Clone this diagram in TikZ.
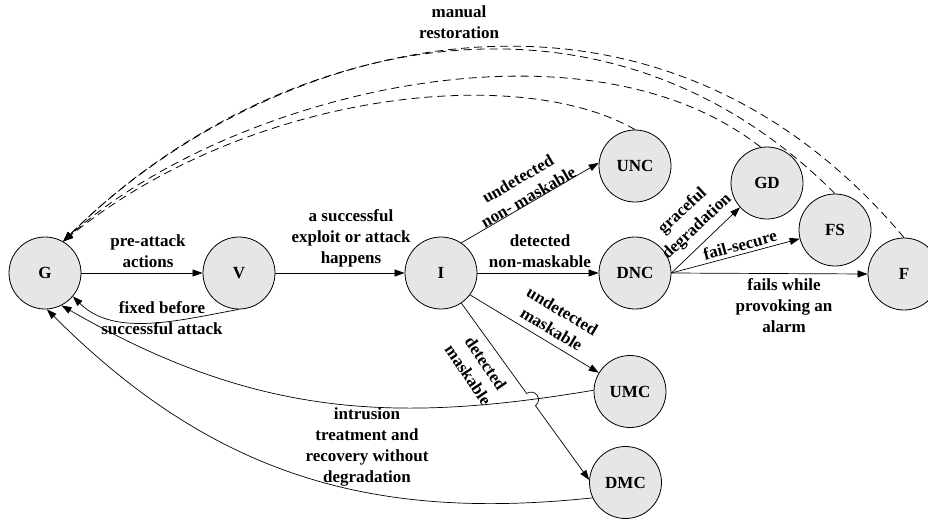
\documentclass[tikz,border=0pt]{standalone}
\usepackage{fontspec}
\setmainfont{Liberation Serif}
\usetikzlibrary{arrows.meta,calc,intersections}
\definecolor{stategray}{RGB}{230,230,230}

\begin{document}
\begin{tikzpicture}[x=1pt,y=1pt,
  stnode/.style={circle,draw=black,line width=0.8pt,fill=stategray,minimum size=72pt,
    inner sep=0pt,font=\fontsize{17}{21}\selectfont\bfseries},
  lbl/.style={align=center,inner sep=0pt,font=\fontsize{17}{21}\selectfont\bfseries},
  tip/.style={-{Triangle[length=10pt,width=7pt]}},
  conn/.style={line width=0.7pt,tip},
  ret/.style={line width=0.8pt,dash pattern=on 8pt off 5pt,tip}]

\fill[white] (0,0) rectangle (928,-522);
\useasboundingbox (0,0) rectangle (928,-522);

% states
\node[stnode] (G)   at (45,-273)    {G};
\node[stnode] (V)   at (239,-273)   {V};
\node[stnode] (I)   at (441,-273)   {I};
\node[stnode] (UNC) at (635,-166)   {UNC};
\node[stnode] (DNC) at (635,-273)   {DNC};
\node[stnode] (GD)  at (767,-183)   {GD};
\node[stnode] (FS)  at (835,-230)   {FS};
\node[stnode] (F)   at (904,-274)   {F};
\node[stnode] (UMC) at (630,-391.5) {UMC};
\node[stnode] (DMC) at (625.5,-482.5) {DMC};

% forward transitions
\draw[conn] (G.east) -- (V.west);
\draw[conn] (V.east) -- (I.west);
\draw[conn] (I.56) -- (UNC.175);
\draw[conn] (I.east) -- (DNC.west);
\draw[conn] (I.-37) -- (UMC.149);
\draw[conn] (DNC.east) -- (GD.222);
\draw[conn] (DNC.east) -- (FS.194);
\draw[conn] (DNC.east) -- (F.west);

% returns to the good state
\draw[conn] (V.south) .. controls +(190:58) and +(-45:59) .. (G.-40);
\draw[conn,name path=umcret] (UMC.178) .. controls +(189.5:200) and +(-30:225) .. (G.-63);
\draw[conn] (DMC.205) .. controls +(186:217) and +(-45:240) .. (G.-87);

% detected maskable, hopping over the UMC return
\path[name path=dmline] (I.-56) -- (DMC.176);
\path[name intersections={of=umcret and dmline, by=X}];
\coordinate (hopA) at ($(X)!7.5pt!(I.-56)$);
\coordinate (hopB) at ($(X)!7.5pt!(DMC.176)$);
\draw[conn] (I.-56) -- (hopA)
  let \p1=($(hopB)-(hopA)$), \n1={atan2(\y1,\x1)} in
  arc[start angle=\n1+180, delta angle=-180, radius=7.5pt] -- (DMC.176);

% manual restoration (dashed)
\draw[ret] (F.north)   .. controls +(130:400) and +(45:285) .. (G.60);
\draw[ret] (FS.north)  .. controls +(135:342) and +(45:276) .. (G.60);
\draw[ret] (GD.100)    .. controls +(142:230) and +(42:216) .. (G.60);
\draw[ret] (UNC.north) .. controls +(150:135) and +(39:237) .. (G.60);

% labels
\node[lbl] (lman)  at (459,-22)  {manual\\restoration};
\node[lbl] (lpre)  at (148,-251) {pre-attack\\actions};
\node[lbl] (lsucc) at (351,-238) {a successful\\exploit or attack\\happens};
\node[lbl] (ldnm)  at (540,-251) {detected\\non-maskable};
\node[lbl] (lfail) at (784,-306) {fails while\\provoking an\\alarm};
\node[lbl] (lfix)  at (162,-318) {fixed before\\successful attack};
\node[lbl] (lintr) at (367,-447) {intrusion\\treatment and\\recovery without\\degradation};
\node[lbl,rotate=30]  (lunm) at (523,-188) {undetected\\non- maskable};
\node[lbl,rotate=43]  (lgd)  at (690,-219) {graceful\\degradation};
\node[lbl,rotate=15]  (lfs)  at (740,-245) {fail-secure};
\node[lbl,rotate=-31] (lum)  at (557,-320) {undetected\\maskable};
\node[lbl,rotate=-56] (ldm)  at (477,-369) {detected\\maskable};
\end{tikzpicture}
\end{document}
